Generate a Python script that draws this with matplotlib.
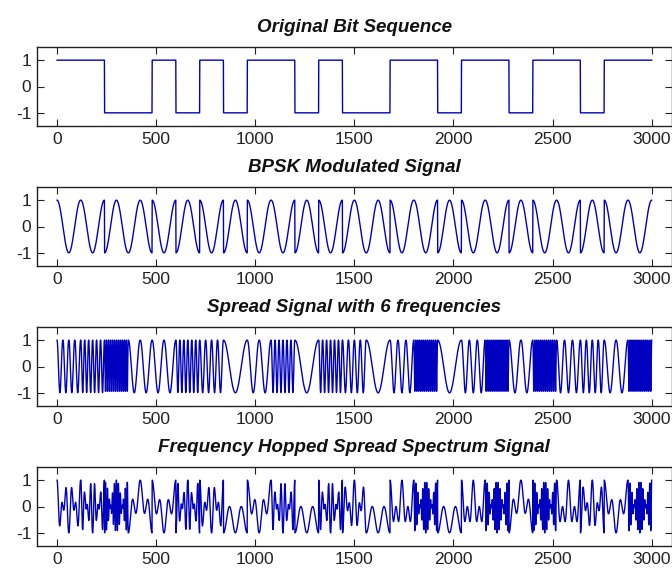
import numpy as np
import matplotlib
matplotlib.use("Agg")
import matplotlib.pyplot as plt

plt.rcParams["axes.unicode_minus"] = False

# =================== data ===================
# one value per bit, 120 samples per bit
bits = [1, 1, 0, 0, 1, 0, 1, 0, 1, 1, 0, 1, 0, 0, 1, 1, 0, 1, 1, 0, 1, 1, 0, 1, 1]
# carrier cycles per bit slot chosen by the hopper (12, 6, 4, 3, 2 or 1)
hops = [4, 6, 12, 2, 2, 6, 4, 1, 2, 6, 1, 6, 4, 1, 3, 12, 1, 3, 12, 2, 12, 3, 4, 2, 12]
titles = ["Original Bit Sequence", "BPSK Modulated Signal",
          "Spread Signal with 6 frequencies", "Frequency Hopped Spread Spectrum Signal"]
xticks = [0, 500, 1000, 1500, 2000, 2500, 3000]
yticks = [-1, 0, 1]
spb = 120

# =================== signals ===================
signal = np.concatenate([np.full(spb, 1.0 if b else -1.0) for b in bits])
carrier = np.tile(np.cos(np.linspace(0, 2 * np.pi, spb)), len(bits))
bpsk_sig = signal * carrier
spread = np.concatenate([np.tile(np.cos(np.linspace(0, 2 * np.pi, spb // n)), n) for n in hops])
fhss_sig = bpsk_sig * spread
series = [signal, bpsk_sig, spread, fhss_sig]
x = np.arange(1, len(signal) + 1)

# =================== figure ===================
W, H = 672, 570
fig = plt.figure(figsize=(W / 100, H / 100), dpi=100, facecolor="white")
font = ["Liberation Sans", "DejaVu Sans"]
left, right = 37, 671.5
top0, period, hgt = 47, 140, 79

for k in range(4):
    top = top0 + period * k
    ax = fig.add_axes([left / W, 1 - (top + hgt) / H, (right - left) / W, hgt / H])
    ax.plot(x, series[k], color="#0000c0", lw=1.0)
    ax.set_xlim(-100, 3100)
    ax.set_ylim(-1.5, 1.5)
    ax.set_xticks(xticks)
    ax.set_yticks(yticks)
    ax.tick_params(direction="in", length=5, width=0.8, top=True, right=True,
                   labelsize=12.5, pad=4, colors="#222222")
    for lab in ax.get_xticklabels() + ax.get_yticklabels():
        lab.set_family(font)
    for sp in ax.spines.values():
        sp.set_linewidth(1.0)
        sp.set_color("#222222")
    ax.set_title(titles[k], fontsize=13.5, fontweight="bold", style="italic",
                 family=font, pad=10.5, color="#111111")

fig.savefig("out.png", dpi=100, facecolor="white")
